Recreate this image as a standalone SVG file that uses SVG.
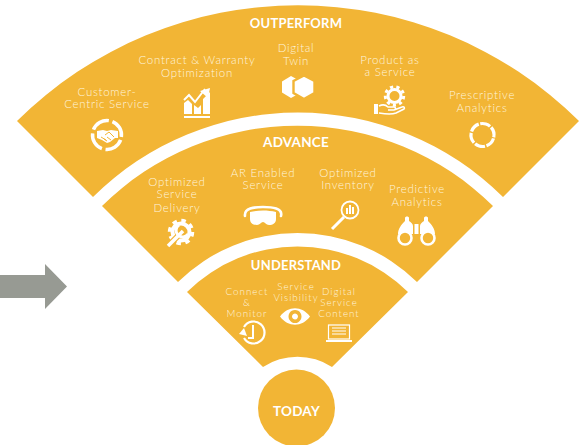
<svg xmlns="http://www.w3.org/2000/svg" width="581" height="445" viewBox="0 0 581 445">
<style>
.b{fill:#F2B535}
.h{font:700 13px "Lato",sans-serif;fill:#fff;text-anchor:middle;letter-spacing:.2px}
.t{font:300 11.500px "Lato",sans-serif;fill:#FEF4DE;text-anchor:middle;letter-spacing:.72px}
.s{font:300 9.800px "Lato",sans-serif;fill:#FEF4DE;text-anchor:middle;letter-spacing:1px}
.i{fill:#fff}
.l{fill:none;stroke:#fff}
.o{fill:none;stroke:#F2B535}
</style>
<rect width="581" height="445" fill="#fff"/>
<path id="arrow" d="M0 275H45V264L67 286.500 45 309V298H0Z" fill="#979A93"/>
<g id="outperform">
<path class="b" d="M17 121A399 399 0 0 1 579 121L503 197A291 291 0 0 0 93 197Z"/>
<text class="h" x="296" y="28">OUTPERFORM</text>
<text class="t" x="296" y="52">Digital</text><text class="t" x="296" y="65">Twin</text>
<text class="t" x="197" y="64">Contract &amp; Warranty</text><text class="t" x="197" y="77">Optimization</text>
<text class="t" x="107" y="96">Customer-</text><text class="t" x="107" y="108">Centric Service</text>
<text class="t" x="390" y="64">Product as</text><text class="t" x="390" y="76">a Service</text>
<text class="t" x="482" y="99">Prescriptive</text><text class="t" x="482" y="112">Analytics</text>
<circle class="l" cx="107" cy="135" r="14.500" stroke-width="3.500" stroke-dasharray="19 3.800" transform="rotate(20 107 135)"/>
<path class="i" d="M97 131l6-1 4 1 4-1 7 1v7l-3 0-5 4-3 1-5-3-5-2Z"/>
<path class="o" stroke-width="1" d="M101 137l5 3M105 135l4-3 5 5M104 139l3 2M107 137l4 3"/>
<path class="i" d="M184 118h26v-2h-26ZM184 114V103l4-3 4 4v10ZM194 114v-9l4 3 3-3v9ZM203 114V99l7-7v22Z"/>
<path class="l" stroke-width="2" d="M184 100l5-5 6 7 10-13"/><path class="i" d="M200 91l10-3-2 10Z"/>
<path class="i" d="M291 76l10 5.500v11L291 98l-9-5.500v-11Z"/>
<path class="i" stroke="#F2B535" stroke-width="2.400" d="M304 75.500l10.500 5.500v12L304 99l-10.500-6V81Z"/>
<circle class="l" cx="394.500" cy="96" r="6.500" stroke-width="3"/>
<circle class="l" cx="394.500" cy="96" r="9.200" stroke-width="3" stroke-dasharray="3.200 3.220"/>
<path class="i" d="M374 104h4v10h-4Z"/>
<path class="l" stroke-width="1.600" d="M379 106c4-2 7-1 9 1h6c2 0 2 3 0 3h-6M394 110l8-3c2-1 3 1 2 2l-8 4c-5 2-11 1-17 0"/>
<circle class="l" cx="482.500" cy="135" r="11.500" stroke-width="3.200" stroke-dasharray="10.500 1.540" transform="rotate(17 482.500 135)"/>
</g>
<g id="advance">
<path class="b" d="M102 206A278 278 0 0 1 493 206L417 282A170 170 0 0 0 178 282Z"/>
<text class="h" x="296" y="147" style="font-size:13.500px">ADVANCE</text>
<text class="t" x="177" y="186">Optimized</text><text class="t" x="177" y="198">Service</text><text class="t" x="177" y="212">Delivery</text>
<text class="t" x="263" y="177">AR Enabled</text><text class="t" x="263" y="189">Service</text>
<text class="t" x="348" y="177">Optimized</text><text class="t" x="348" y="189">Inventory</text>
<text class="t" x="417" y="193">Predictive</text><text class="t" x="417" y="206">Analytics</text>
<circle class="l" cx="181" cy="232" r="8.500" stroke-width="4"/>
<circle class="l" cx="181" cy="232" r="11.500" stroke-width="3.500" stroke-dasharray="4.500 4.530"/>
<path class="o" stroke-width="6" d="M168 246L183 231"/>
<path class="l" stroke-width="3.500" d="M168 246L183 231"/>
<path class="l" stroke-width="3" d="M179 225a6.500 6.500 0 1 0 9 9"/>
<path class="l" stroke-width="2.600" stroke-linecap="round" d="M245 216c-1-8 9-9 18-9s20 1 18 9"/>
<path class="i" d="M250 212c8-2 18-2 26 0v7c0 4-3 6-7 6-3 0-4-3-6-3s-3 3-6 3c-4 0-7-2-7-6Z"/>
<circle class="l" cx="350" cy="210" r="8.500" stroke-width="1.800"/>
<path class="l" stroke-width="3" d="M344 217L332 229"/>
<path class="i" d="M346 208h2v6h-2ZM349 205h2v9h-2ZM352 207h2v7h-2Z"/>
<path class="i" d="M405 221v-3c0-2 4-2 4 0v3c2 1 4 3 4 5v8h-15c0-5 3-9 7-13ZM428 221v-3c0-2-4-2-4 0v3c-2 1-4 3-4 5v8h15c0-5-3-9-7-13Z"/>
<rect class="i" x="414.500" y="224" width="4" height="10"/>
<circle class="b" cx="405" cy="238" r="7"/><circle class="b" cx="428" cy="238" r="7"/>
<circle class="l" cx="405" cy="238" r="6.500" stroke-width="2.600"/><circle class="l" cx="428" cy="238" r="6.500" stroke-width="2.600"/>
</g>
<g id="understand">
<path class="b" d="M187 292A157 157 0 0 1 408 292L332 367A63 63 0 0 0 263 367Z"/>
<text class="h" x="296" y="270">UNDERSTAND</text>
<text class="s" x="247" y="295">Connect</text><text class="s" x="247" y="306">&amp;</text><text class="s" x="247" y="317">Monitor</text>
<text class="s" x="296" y="290">Service</text><text class="s" x="296" y="301">Visibility</text>
<text class="s" x="339" y="295">Digital</text><text class="s" x="339" y="306">Service</text><text class="s" x="339" y="317">Content</text>
<path class="l" stroke-width="2.200" d="M244 327a11 11 0 1 1 0 11"/>
<path class="i" d="M239 334l5-6 3 8Z"/>
<path class="l" stroke-width="2" d="M253 325v13h-5"/>
<path class="i" fill-rule="evenodd" d="M280 316.500c8-11 22-11 30 0-8 11-22 11-30 0ZM295 310a6.500 6.500 0 1 0 .01 0ZM295 313.500a3 3 0 1 1-.01 0Z"/>
<rect class="l" x="328.500" y="325" width="21" height="14" stroke-width="1.200"/>
<path class="l" stroke-width="1" d="M332 328h14M332 331h14M332 334h14"/>
<path class="i" d="M326 340h26v2h-26Z"/>
</g>
<g id="today">
<circle class="b" cx="296.500" cy="408" r="38.500"/>
<text class="h" x="296.500" y="416" style="font-size:13.500px">TODAY</text>
</g>
</svg>
